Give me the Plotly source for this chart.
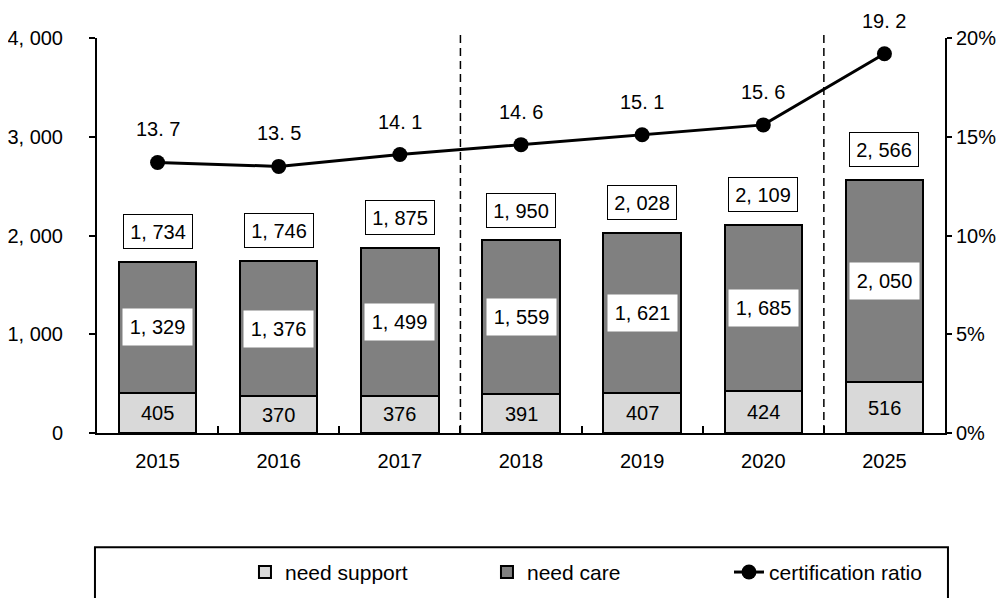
import plotly.graph_objects as go

years = ["2015", "2016", "2017", "2018", "2019", "2020", "2025"]
need_support = [405, 370, 376, 391, 407, 424, 516]
need_care = [1329, 1376, 1499, 1559, 1621, 1685, 2050]
totals = [1734, 1746, 1875, 1950, 2028, 2109, 2566]
ratio = [13.7, 13.5, 14.1, 14.6, 15.1, 15.6, 19.2]
left_ticks = [0, 1000, 2000, 3000, 4000]
right_ticks = [0, 5, 10, 15, 20]
divider_positions = [2.5, 5.5]

FONT = "Liberation Sans, Arial, sans-serif"
LBL = 20


def jp(v):
    return f"{v:,}".replace(",", ", ")


fig = go.Figure()
fig.add_trace(go.Bar(x=years, y=need_support, name="need support",
                     marker=dict(color="#d9d9d9", line=dict(color="black", width=2)),
                     width=0.64))
fig.add_trace(go.Bar(x=years, y=need_care, name="need care",
                     marker=dict(color="#808080", line=dict(color="black", width=2)),
                     width=0.64))
fig.add_trace(go.Scatter(x=years, y=ratio, name="certification ratio", yaxis="y2",
                         mode="lines+markers",
                         line=dict(color="black", width=3),
                         marker=dict(color="black", size=15)))

ann = []
for i in range(len(years)):
    s, c, t, r = need_support[i], need_care[i], totals[i], ratio[i]
    ann.append(dict(x=i, y=s / 2, xref="x", yref="y", text=jp(s), showarrow=False,
                    font=dict(family=FONT, size=LBL, color="black")))
    ann.append(dict(x=i, y=s + c / 2, xref="x", yref="y", text=jp(c), showarrow=False,
                    font=dict(family=FONT, size=LBL, color="black"),
                    bgcolor="white", width=63, height=30, borderpad=3))
    ann.append(dict(x=i, y=t, xref="x", yref="y", text=jp(t), showarrow=False,
                    yshift=30,
                    font=dict(family=FONT, size=LBL, color="black"),
                    bgcolor="white", bordercolor="black", borderwidth=1,
                    width=64, height=29, borderpad=2))
    ann.append(dict(x=i, y=r, xref="x", yref="y2", text=f"{r:.1f}".replace(".", ". "),
                    showarrow=False, yshift=33,
                    font=dict(family=FONT, size=LBL, color="black")))

shapes = []
for p in divider_positions:
    shapes.append(dict(type="line", xref="x", yref="paper", x0=p, x1=p, y0=0, y1=1.0127,
                       line=dict(color="black", width=1.5, dash="8px,5px")))
shapes.append(dict(type="rect", xref="paper", yref="paper", x0=-0.0024, x1=1.0035,
                   y0=-0.45, y1=-0.289, line=dict(color="black", width=2),
                   fillcolor="rgba(0,0,0,0)"))

# the page body has an 8px default margin, so the figure is 8px smaller
fig.update_layout(
    barmode="stack",
    width=997, height=590,
    margin=dict(l=89, r=60, t=30, b=165, autoexpand=False),
    plot_bgcolor="white", paper_bgcolor="white",
    font=dict(family=FONT, size=LBL, color="black"),
    showlegend=True,
    legend=dict(orientation="h", x=0.1745, y=-0.301, xanchor="left", yanchor="top",
                font=dict(family="Liberation Sans, Arial, sans-serif", size=21, color="black"),
                entrywidth=197, traceorder="normal",
                bgcolor="rgba(0,0,0,0)"),
    xaxis=dict(type="category", showline=True, linecolor="black", linewidth=2,
               ticks="inside", tickson="boundaries", ticklen=7, tickwidth=1.5,
               tickcolor="black", showgrid=False, range=[-0.5, 6.5],
               automargin=False, ticklabelstandoff=9,
               tickfont=dict(family=FONT, size=LBL)),
    yaxis=dict(range=[0, 4000], tickvals=left_ticks,
               ticktext=[jp(v) for v in left_ticks],
               showline=True, linecolor="black", linewidth=2, ticks="outside",
               ticklen=6, tickwidth=1.5, tickcolor="black", showgrid=False,
               zeroline=False, ticklabelstandoff=22, automargin=False,
               tickfont=dict(family=FONT, size=LBL)),
    yaxis2=dict(range=[0, 20], overlaying="y", side="right", tickvals=right_ticks,
                ticktext=[f"{v}%" for v in right_ticks],
                showline=True, linecolor="black", linewidth=2, ticks="outside",
                ticklen=5, tickwidth=1.5, tickcolor="black", showgrid=False,
                zeroline=False, ticklabelstandoff=0, automargin=False,
                tickfont=dict(family=FONT, size=LBL)),
    annotations=ann,
    shapes=shapes,
)

fig.write_html("out.html")
